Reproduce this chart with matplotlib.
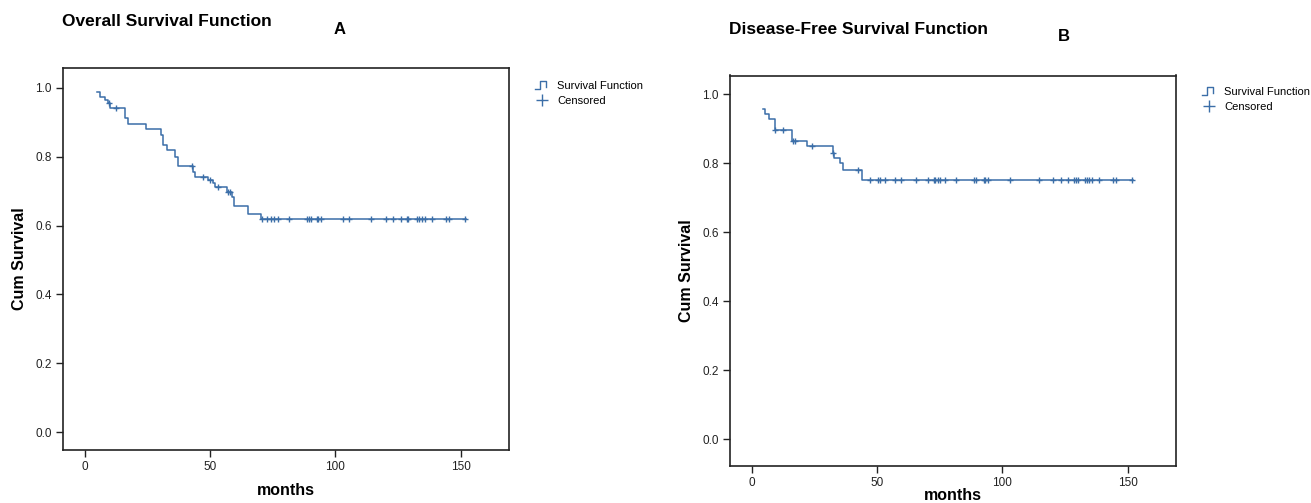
import matplotlib
matplotlib.use("Agg")
import matplotlib.pyplot as plt
import numpy as np
from matplotlib.lines import Line2D
from matplotlib.legend_handler import HandlerBase

plt.rcParams['font.family'] = ['Liberation Sans', 'DejaVu Sans']

# ---- Panel A: Overall survival ----
times_A = [4.7, 6.0, 8.0, 9.3, 10.0, 16.0, 17.3, 24.3, 30.2, 31.3, 32.6, 35.9, 37.3,
           43.2, 43.9, 49.2, 50.9, 51.9, 56.5, 58.5, 59.5, 65.2, 70.2]
surv_A = [0.987, 0.973, 0.965, 0.957, 0.941, 0.912, 0.894, 0.880, 0.863, 0.834, 0.820,
          0.800, 0.773, 0.757, 0.740, 0.733, 0.723, 0.711, 0.699, 0.684, 0.658, 0.634, 0.618]
end_A = 152.3
cens_A = [9.6, 12.4, 42.6, 47.2, 49.9, 53.2, 57.2, 57.9,
          70.6, 72.5, 74.2, 75.4, 77.1, 81.4, 88.5, 89.5, 90.1, 92.5, 93.1, 94.3,
          103.1, 105.3, 114.3, 120.1, 123.0, 126.1, 128.4, 129.1, 132.6, 133.4,
          134.4, 135.7, 138.4, 144.3, 145.4, 151.6]

# ---- Panel B: Disease-free survival ----
times_B = [4.5, 5.2, 6.9, 9.3, 15.9, 22.1, 32.3, 32.8, 35.2, 36.3, 43.9]
surv_B = [0.958, 0.942, 0.928, 0.896, 0.866, 0.850, 0.831, 0.816, 0.800, 0.782, 0.753]
end_B = 152.0
cens_B = [9.3, 12.3, 16.3, 17.2, 24.1, 32.5, 42.5,
          47.2, 50.3, 51.2, 53.1, 57.2, 59.5, 65.5, 70.1, 72.5, 73.2, 74.1, 75.2,
          77.2, 81.3, 88.5, 89.5, 92.5, 93.1, 94.1, 103.2, 114.5, 120.3, 123.2,
          126.1, 128.5, 129.3, 130.3, 132.9, 133.6, 134.7, 135.7, 138.5, 144.3,
          145.5, 151.6]

titles = ["Overall Survival Function", "Disease-Free Survival Function"]
letters = ["A", "B"]
xticks = [0, 50, 100, 150]
yticks = [0.0, 0.2, 0.4, 0.6, 0.8, 1.0]

COL = '#3B6EA8'


class StepHandler(HandlerBase):
    def create_artists(self, legend, orig_handle, xdescent, ydescent,
                       width, height, fontsize, trans):
        w, h = width, height
        xs = [0, 0.35 * w, 0.35 * w, 0.85 * w, 0.85 * w]
        ys = [-0.05 * h, -0.05 * h, 1.0 * h, 1.0 * h, 0.25 * h]
        ln = Line2D(np.array(xs) - xdescent, np.array(ys) - ydescent,
                    color=COL, lw=1.0, transform=trans)
        return [ln]


fig = plt.figure(figsize=(13.11, 5.03), dpi=100)
W, H = 1311, 503
# axes in pixel boxes (left, top, right, bottom)
boxes = [(63, 68, 509, 450), (730, 75.5, 1176, 466)]
ylims = [(-0.0523, 1.0581), (-0.077, 1.0545)]
datasets = [(times_A, surv_A, end_A, cens_A), (times_B, surv_B, end_B, cens_B)]
title_pos = [((62, 22), (340, 30)), ((729, 29), (1064, 37))]
xlabelpads = [7, -1]
legend_y = [0.978, 0.982]

for i, (box, yl, data) in enumerate(zip(boxes, ylims, datasets)):
    l, t, r, b = box
    ax = fig.add_axes([l / W, 1 - b / H, (r - l) / W, (b - t) / H])
    times, surv, end, cens = data
    tt = list(times) + [end]
    ss = list(surv) + [surv[-1]]
    ax.step(tt, ss, where='post', color=COL, lw=1.1)
    cy = [surv[max(0, np.searchsorted(times, c, side='right') - 1)] for c in cens]
    ax.plot(cens, cy, linestyle='none', marker='+', color=COL, ms=5, mew=1.0)
    ax.set_xlim(-8.8, 169.3)
    ax.set_ylim(*yl)
    ax.set_xticks(xticks)
    ax.set_xticklabels([str(x) for x in xticks])
    ax.set_yticks(yticks)
    ax.set_yticklabels([f"{y:.1f}" for y in yticks])
    ax.tick_params(direction='out', length=5, width=1.0, labelsize=8.5, pad=3,
                   colors='#222222')
    for sp in ax.spines.values():
        sp.set_linewidth(1.2)
        sp.set_color('#222222')
    ax.set_xlabel('months', fontsize=11.5, fontweight='bold', labelpad=xlabelpads[i])
    ax.set_ylabel('Cum Survival', fontsize=11.5, fontweight='bold', labelpad=6)
    (tx, ty), (lx, ly) = title_pos[i]
    fig.text(tx / W, 1 - ty / H, titles[i], fontsize=12.5, fontweight='bold',
             ha='left', va='center')
    fig.text(lx / W, 1 - ly / H, letters[i], fontsize=12, fontweight='bold',
             ha='center', va='center')
    h1 = Line2D([], [], color=COL)
    h2 = Line2D([], [], color=COL, marker='+', linestyle='none', ms=8, mew=1.0)
    ax.legend([h1, h2], ['Survival Function', 'Censored'],
              handler_map={h1: StepHandler()},
              loc='upper left', bbox_to_anchor=(1.048, legend_y[i]), frameon=False,
              fontsize=8, handlelength=1.2, handletextpad=0.8,
              labelspacing=0.45, borderaxespad=0)

fig.savefig('out.png', dpi=100)
